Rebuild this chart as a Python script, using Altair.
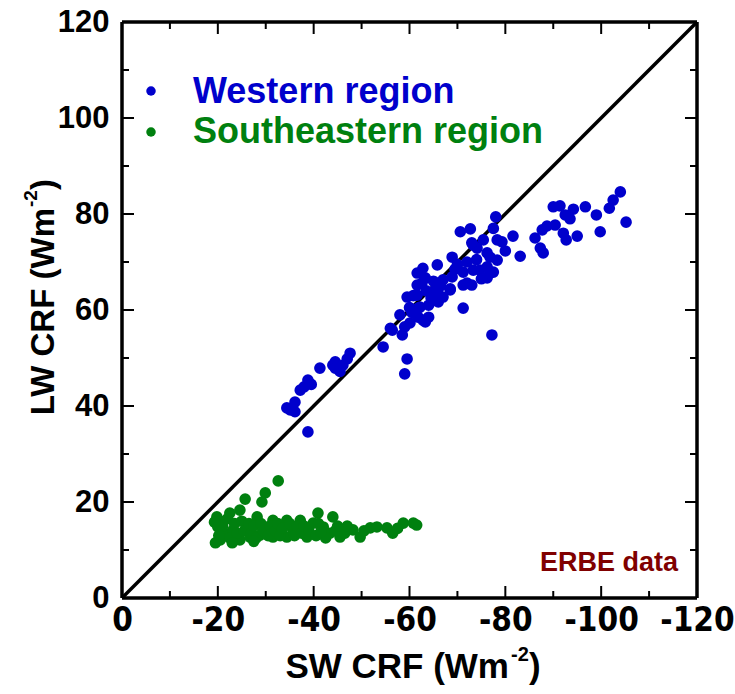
import altair as alt
import pandas as pd

# ---------------- data ----------------
west_sw = [-34.4, -35.1, -36.1, -36.1, -37.2, -38.0, -38.8, -39.5, -38.8, -41.3, -44.0, -44.5, -44.5, -45.5,
           -46.1, -47.0, -47.6,
           -54.5, -56.4, -56.0, -58.5, -59.0, -59.5, -58.0, -59.0, -60.1, -62.8, -63.3, -61.8, -59.5, -60.8,
           -61.6, -62.2, -61.8, -61.6, -62.6, -63.3, -61.6, -62.8, -65.8, -68.9, -70.6, -72.7, -65.3, -65.8,
           -66.0, -67.0, -67.0, -68.5, -68.5, -68.9, -71.2, -72.0, -71.2, -73.0, -71.2, -73.3, -74.7, -76.2,
           -76.2, -77.5, -76.8, -76.8, -78.3, -76.2, -73.3, -74.1, -73.0, -75.4, -78.3, -79.3, -77.5, -78.0,
           -80.0, -81.6, -83.1, -77.2, -86.2, -87.3, -87.9, -87.7, -88.7, -90.4, -90.0, -91.4, -92.5, -94.2,
           -93.5, -92.1, -92.7, -95.0, -96.7, -99.0, -99.8, -101.7, -102.5, -104.0, -105.2,
           -64.0, -64.5, -63.5, -60.0, -65.0, -66.5, -69.5, -70.0, -72.0, -74.0, -75.0, -60.5, -64.0]
west_lw = [39.6, 39.2, 38.8, 40.8, 43.3, 44.0, 45.4, 44.5, 34.6, 47.9, 48.5, 49.2, 47.9, 47.2,
           48.5, 49.8, 51.0,
           52.3, 55.8, 56.2, 54.8, 46.7, 49.8, 59.0, 56.5, 57.3, 57.9, 57.5, 58.5, 62.7, 63.0,
           63.1, 60.6, 60.4, 65.2, 65.6, 66.7, 67.7, 68.7, 69.4, 71.0, 76.3, 76.9, 64.2, 63.8,
           61.7, 62.7, 66.3, 64.2, 64.4, 66.9, 67.9, 65.6, 65.2, 65.2, 60.4, 68.3, 68.3, 69.0,
           66.7, 67.9, 67.7, 71.0, 70.4, 71.9, 73.5, 72.9, 74.0, 74.6, 74.6, 74.2, 77.0, 79.4,
           72.3, 75.4, 71.2, 54.8, 75.0, 72.9, 71.9, 76.7, 77.5, 77.7, 81.5, 81.7, 79.8, 81.0,
           79.0, 76.0, 74.6, 75.4, 81.5, 79.8, 76.3, 81.2, 82.9, 84.6, 78.3,
           61.0, 62.5, 64.0, 60.5, 66.0, 65.0, 68.5, 69.5, 70.0, 70.5, 66.5, 59.5, 58.5]

se_sw = [-32.6, -29.9, -29.2, -25.7,
         -19.8, -20.0, -20.5, -19.5, -21.5, -22.5, -24.6, -24.6, -26.7, -28.2, -30.3, -31.5, -34.4, -35.7,
         -37.2, -38.6, -39.9, -34.4, -31.5, -28.8, -26.1, -23.2,
         -40.9, -44.0, -42.0, -43.4, -45.5, -48.2, -49.7, -51.8, -53.2, -55.3, -58.7, -60.8, -61.5,
         -20.5, -21.0, -22.0, -22.5, -23.5, -24.0, -25.0, -25.5, -26.5, -27.0, -27.5, -28.0, -29.0, -29.5,
         -30.5, -31.0, -32.0, -32.5, -33.0, -33.5, -35.0, -36.0, -36.5, -37.5, -38.0, -39.0, -40.5, -41.0,
         -42.5, -44.5, -46.5, -47.0, -50.5, -56.5, -57.5, -23.0, -27.5, -41.5, -45.0, -20.2, -19.3]
se_lw = [24.4, 21.9, 20.0, 20.6,
         16.9, 14.8, 12.1, 11.5, 13.5, 17.7, 18.3, 12.1, 12.7, 16.9, 14.8, 16.2, 16.2, 14.2,
         16.2, 12.7, 15.6, 12.7, 12.7, 13.1, 14.8, 14.2,
         17.7, 16.9, 14.8, 13.5, 12.7, 14.2, 12.7, 14.6, 14.8, 14.6, 15.6, 15.6, 15.2,
         16.0, 15.0, 16.5, 12.5, 15.5, 13.5, 16.0, 14.0, 15.5, 13.5, 15.0, 12.5, 15.5, 14.0,
         13.0, 15.0, 14.0, 15.5, 13.0, 14.5, 15.5, 13.0, 15.0, 13.5, 15.0, 14.0, 13.0, 15.5,
         12.5, 14.0, 13.5, 15.0, 14.0, 13.5, 14.5, 11.5, 11.8, 13.8, 15.0, 13.0, 15.8]

x_labels = [0, -20, -40, -60, -80, -100, -120]
y_labels = [0, 20, 40, 60, 80, 100, 120]
x_major = [-20, -40, -60, -80, -100]
x_minor = [-10, -30, -50, -70, -90, -110]
y_major = [20, 40, 60, 80, 100]
y_minor = [10, 30, 50, 70, 90, 110]
diag_sw = [0, -120]
diag_lw = [0, 120]

BLUE = "#0000cc"
GREEN = "#00800f"
MAROON = "#800000"
FONT = "Liberation Sans, Arial, sans-serif"
NARROW = "Liberation Sans Narrow, Arial Narrow, DejaVu Sans Condensed, sans-serif"

W, H = 575, 576

xs = alt.Scale(domain=[0, -120], nice=False, zero=False)
ys = alt.Scale(domain=[0, 120], nice=False, zero=False)

df = pd.concat([
    pd.DataFrame({"sw": west_sw, "lw": west_lw, "region": "Western region"}),
    pd.DataFrame({"sw": se_sw, "lw": se_lw, "region": "Southeastern region"}),
])

hy = "datum.value < 0 ? '-' + format(-datum.value, 'd') : format(datum.value, 'd')"

base_x = alt.X("sw:Q", scale=xs, axis=alt.Axis(values=x_labels, title=None, ticks=False, domain=False,
                                               grid=False, labelFont=NARROW, labelFontSize=33,
                                               labelFontWeight="bold", labelColor="black",
                                               labelOverlap=False, labelFlush=False,
                                               labelPadding=6, labelExpr=hy))
base_y = alt.Y("lw:Q", scale=ys, axis=alt.Axis(values=y_labels, title=None, ticks=False, domain=False,
                                               grid=False, labelFont=FONT, labelFontSize=31,
                                               labelFontWeight="bold", labelColor="black",
                                               labelOverlap=False, labelFlush=False,
                                               labelPadding=13, labelExpr=hy))

diag = alt.Chart(pd.DataFrame({"sw": diag_sw, "lw": diag_lw})).mark_line(
    color="black", strokeWidth=3.5, clip=True).encode(x=base_x, y=base_y)

pts = alt.Chart(df).mark_circle(size=135, opacity=1).encode(
    x=alt.X("sw:Q", scale=xs),
    y=alt.Y("lw:Q", scale=ys),
    color=alt.Color("region:N", scale=alt.Scale(domain=["Western region", "Southeastern region"],
                                                range=[BLUE, GREEN]), legend=None),
)

def xt(vals, length):
    d = pd.DataFrame({"v": vals})
    bottom = alt.Chart(d).mark_rule(color="black", strokeWidth=2).encode(
        x=alt.X("v:Q", scale=xs), y=alt.value(H), y2=alt.value(H - length))
    top = alt.Chart(d).mark_rule(color="black", strokeWidth=2).encode(
        x=alt.X("v:Q", scale=xs), y=alt.value(0), y2=alt.value(length))
    return bottom + top

def yt(vals, length):
    d = pd.DataFrame({"v": vals})
    left = alt.Chart(d).mark_rule(color="black", strokeWidth=2).encode(
        y=alt.Y("v:Q", scale=ys), x=alt.value(0), x2=alt.value(length))
    right = alt.Chart(d).mark_rule(color="black", strokeWidth=2).encode(
        y=alt.Y("v:Q", scale=ys), x=alt.value(W), x2=alt.value(W - length))
    return left + right

ticks = xt(x_major, 12) + xt(x_minor, 7) + yt(y_major, 12) + yt(y_minor, 7)

# frame drawn as four rules
frame = alt.layer(
    alt.Chart(pd.DataFrame({"a": [0]})).mark_rule(color="black", strokeWidth=3.5).encode(
        x=alt.value(0), x2=alt.value(W), y=alt.value(0)),
    alt.Chart(pd.DataFrame({"a": [0]})).mark_rule(color="black", strokeWidth=3.5).encode(
        x=alt.value(0), x2=alt.value(W), y=alt.value(H)),
    alt.Chart(pd.DataFrame({"a": [0]})).mark_rule(color="black", strokeWidth=3.5).encode(
        y=alt.value(0), y2=alt.value(H), x=alt.value(0)),
    alt.Chart(pd.DataFrame({"a": [0]})).mark_rule(color="black", strokeWidth=3.5).encode(
        y=alt.value(0), y2=alt.value(H), x=alt.value(W)),
)

def txt(text, x, y, size, color="black", align="left", angle=0, font=FONT):
    return alt.Chart(pd.DataFrame({"t": [text]})).mark_text(
        font=font, fontSize=size, fontWeight="bold", color=color, align=align,
        baseline="alphabetic", angle=angle).encode(text="t:N", x=alt.value(x), y=alt.value(y))

# legend
leg_pts = alt.Chart(pd.DataFrame({"r": ["Western region", "Southeastern region"],
                                  "py": [69, 110]})).mark_circle(size=90, opacity=1).encode(
    x=alt.value(29), y=alt.Y("py:Q", scale=None),
    color=alt.Color("r:N", scale=alt.Scale(domain=["Western region", "Southeastern region"],
                                           range=[BLUE, GREEN]), legend=None))
legend = (leg_pts
          + txt("Western region", 71, 81, 36, BLUE)
          + txt("Southeastern region", 71, 121, 36, GREEN))

erbe = txt("ERBE data", 556, 549, 27, MAROON, align="right")

# axis titles with superscripts
xtitle = (txt("SW CRF (Wm", 387, 656, 35, align="right")
          + txt("-2", 389, 639, 20)
          + txt(")", 407, 656, 35))
ytitle = (txt("LW CRF (Wm", -68, 186, 33, align="right", angle=270)
          + txt("-2", -85, 185, 19, angle=270)
          + txt(")", -68, 168, 33, angle=270))

chart = alt.layer(diag, pts, ticks, frame, legend, erbe, xtitle, ytitle).properties(
    width=W, height=H,
    background="white",
    autosize=alt.AutoSizeParams(type="none"),
    padding={"left": 122, "top": 22, "right": 38, "bottom": 96},
).configure_view(stroke=None)

chart.save("out.html", embed_options={"renderer": "svg", "actions": False})
